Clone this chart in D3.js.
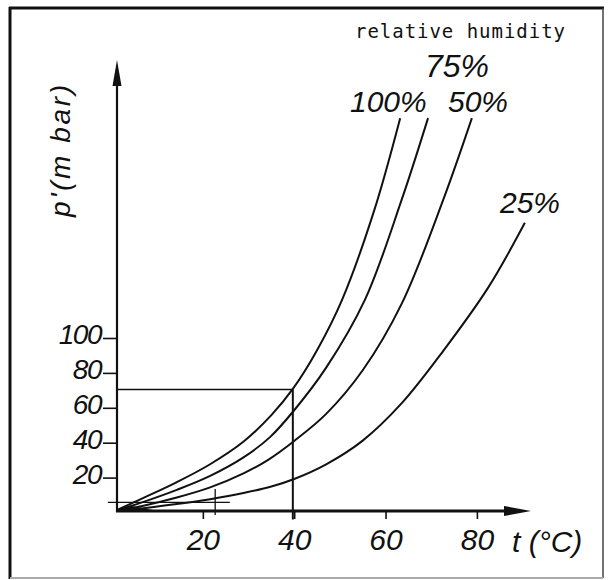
<!DOCTYPE html>
<html>
<head>
<meta charset="utf-8">
<script src="https://cdn.jsdelivr.net/npm/d3@7"></script>
<style>
  html, body { margin: 0; padding: 0; background: #fff; }
  svg { display: block; }
  .lbl { font-family: "Liberation Sans", Arial, sans-serif; font-style: italic; fill: #111; }
</style>
</head>
<body>
<svg id="chart" width="608" height="580"></svg>
<script>
// ---- data ----
const xTicks = [20, 40, 60, 80];
const yTicks = [20, 40, 60, 80, 100];

const t100 = [1.5, 7, 14, 21.5, 29, 35, 39.7, 45, 50.5, 57.5, 63.2];
const p100 = [1.8, 8.4, 17, 27.5, 40.8, 55.8, 70.8, 93, 122, 173, 226];

const t75 = [1.5, 7, 14.3, 21.6, 28.9, 34.7, 40, 47, 55.5, 63.5, 69.3];
const p75 = [1.4, 6.1, 13, 21, 31.6, 43.2, 58.6, 83, 122, 179, 226];

const t50 = [1.5, 7, 14.3, 21.6, 28.9, 34.3, 40, 47, 55, 63.6, 72.6, 78.9];
const p50 = [1.1, 3.9, 8.6, 14.4, 22.4, 30.2, 41, 56.5, 81.5, 120, 179, 226];

const t25 = [1.5, 7, 14.3, 21.6, 28.9, 35, 40, 47, 55, 63.5, 72.6, 82.5, 90.5];
const p25 = [0.8, 2.45, 4.85, 7.65, 11.15, 14.9, 19.2, 27.6, 41.2, 62.5, 92.5, 129, 166];

const seriesNames = ["100%", "75%", "50%", "25%"];
const seriesT = [t100, t75, t50, t25];
const seriesP = [p100, p75, p50, p25];

// construction lines [t1, p1, t2, p2]
const refLines = [
  [1.2, 70.5, 39.7, 70.5],
  [39.7, 70.5, 39.7, -4],
  [-0.8, 5.8, 25.9, 5.8],
  [22.7, 13.5, 22.7, -1.4]
];

// ---- drawing ----
const svg = d3.select("#chart");
const x = d3.scaleLinear().domain([0, 100]).range([111.5, 568.25]);
const y = d3.scaleLinear().domain([0, 100]).range([512.5, 338]);

const axisX = 117, axisY = 511;

// frame
svg.append("line").attr("x1", 9).attr("y1", 8).attr("x2", 604).attr("y2", 8).attr("stroke", "#111").attr("stroke-width", 3);
svg.append("line").attr("x1", 10).attr("y1", 7).attr("x2", 10).attr("y2", 579).attr("stroke", "#111").attr("stroke-width", 3);
svg.append("line").attr("x1", 603).attr("y1", 8).attr("x2", 603).attr("y2", 578).attr("stroke", "#444").attr("stroke-width", 1.5);
svg.append("line").attr("x1", 10).attr("y1", 578).attr("x2", 603).attr("y2", 578).attr("stroke", "#aaa").attr("stroke-width", 2);

// construction lines
svg.append("g").selectAll("line").data(refLines).join("line")
  .attr("x1", d => x(d[0])).attr("y1", d => y(d[1]))
  .attr("x2", d => x(d[2])).attr("y2", d => y(d[3]))
  .attr("stroke", "#111").attr("stroke-width", (d, i) => i === 1 ? 2 : 1.3);

// curves
const line = d3.line().x(d => x(d[0])).y(d => y(d[1])).curve(d3.curveCatmullRom.alpha(0.5));
svg.append("g").selectAll("path").data(seriesT.map((ts, i) => ts.map((t, j) => [t, seriesP[i][j]])))
  .join("path")
  .attr("d", line)
  .attr("fill", "none").attr("stroke", "#111").attr("stroke-width", 2);

// origin blob where the curves converge
svg.append("path")
  .attr("d", `M${axisX},${axisY} L${x(9)},${axisY - 1} L${x(4)},${y(4)} Z`)
  .attr("fill", "#111");

// axes lines
svg.append("line").attr("x1", axisX).attr("y1", axisY + 1).attr("x2", axisX).attr("y2", 80)
  .attr("stroke", "#111").attr("stroke-width", 2.2);
svg.append("path").attr("d", `M${axisX},60 L${axisX + 4.5},86 L${axisX - 4.5},86 Z`).attr("fill", "#111");
svg.append("line").attr("x1", axisX - 1).attr("y1", axisY).attr("x2", 510).attr("y2", axisY)
  .attr("stroke", "#111").attr("stroke-width", 3);
svg.append("path").attr("d", `M531,${axisY} L504,${axisY - 5} L504,${axisY + 5} Z`).attr("fill", "#111");

// x axis ticks
const gx = svg.append("g").attr("transform", `translate(0,${axisY})`)
  .call(d3.axisBottom(x).tickValues(xTicks).tickSizeInner(8).tickSizeOuter(0).tickPadding(10));
gx.select(".domain").remove();
gx.selectAll(".tick line").attr("stroke", "#111").attr("stroke-width", 1.6);
gx.selectAll(".tick text").attr("class", "lbl").attr("font-size", 30).attr("fill", "#111")
  .attr("font-family", null);

// y axis ticks
const gy = svg.append("g").attr("transform", `translate(${axisX},0)`)
  .call(d3.axisLeft(y).tickValues(yTicks).tickSizeInner(14).tickSizeOuter(0).tickPadding(2));
gy.select(".domain").remove();
gy.selectAll(".tick line").attr("stroke", "#111").attr("stroke-width", 1.6);
gy.selectAll(".tick text").attr("class", "lbl").attr("font-size", 28).attr("fill", "#111")
  .attr("letter-spacing", -1.5).attr("dy", "0.2em").attr("font-family", null);

// axis titles
svg.append("text").attr("class", "lbl").attr("x", 512).attr("y", 552).attr("font-size", 30).text("t (°C)");
svg.append("text").attr("class", "lbl")
  .attr("transform", "translate(70,151) rotate(-90)")
  .attr("text-anchor", "middle").attr("font-size", 28)
  .attr("textLength", 132).attr("lengthAdjust", "spacing")
  .text("p'(m bar)");

// series labels
const labelPos = [[350, 112, 30], [425, 77, 32], [448, 112, 30], [500, 213, 30]];
svg.append("g").selectAll("text").data(seriesNames).join("text")
  .attr("class", "lbl")
  .attr("x", (d, i) => labelPos[i][0]).attr("y", (d, i) => labelPos[i][1])
  .attr("font-size", (d, i) => labelPos[i][2])
  .text(d => d);

svg.append("text").attr("x", 355).attr("y", 38)
  .attr("font-family", "'DejaVu Sans Mono', monospace").attr("font-size", 19)
  .attr("textLength", 210).attr("lengthAdjust", "spacing")
  .attr("fill", "#111").text("relative humidity");
</script>
</body>
</html>
